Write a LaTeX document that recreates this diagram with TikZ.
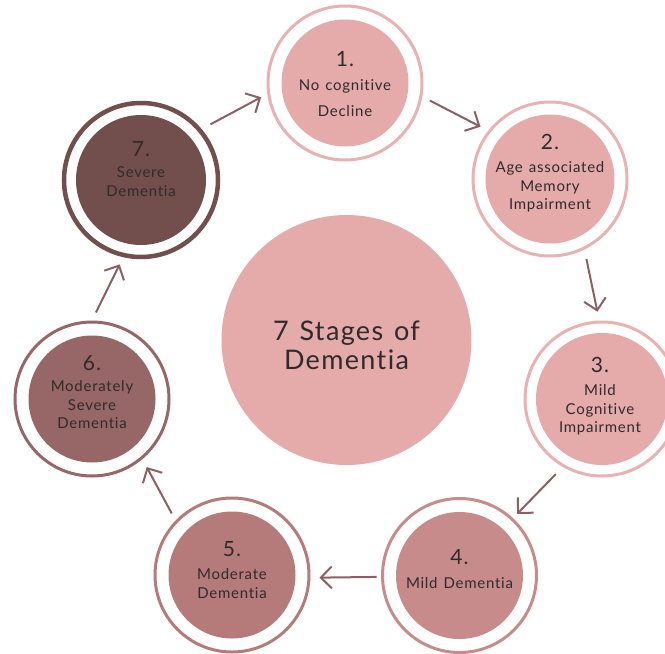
\documentclass[tikz,border=0pt]{standalone}
\usepackage{fontspec}
\setmainfont{Lato}[LetterSpace=5, Ligatures={NoCommon,NoContextual,NoRequired}, WordSpace=1.3]
\usetikzlibrary{arrows.meta}
\definecolor{pinkA}{HTML}{E5AAAA}
\definecolor{ringA}{HTML}{E8B2B2}
\definecolor{pinkB}{HTML}{C88B8B}
\definecolor{pinkC}{HTML}{B57B7B}
\definecolor{pinkD}{HTML}{966766}
\definecolor{pinkE}{HTML}{724E4C}
\definecolor{arrowc}{HTML}{8C5F62}
\definecolor{txtc}{HTML}{302B2B}
\tikzset{
  ring/.style={circle, draw=#1, line width=3pt, minimum size=154pt, inner sep=0pt},
  disc/.style={circle, fill=#1, minimum size=127pt, inner sep=0pt},
  lbl/.style={align=center, text=txtc, font=\fontsize{15}{18.5}\selectfont, inner sep=0pt},
  flow/.style={draw=arrowc, line width=2pt, -{Straight Barb[length=11pt,width=22pt]}},
}
\newcommand{\stnum}[1]{{\fontsize{21}{24}\selectfont #1}}
\begin{document}
\begin{tikzpicture}[x=1pt,y=-1pt]
\clip (0,0) rectangle (665,654);
% centre
\node[circle, fill=pinkA, minimum size=250pt, inner sep=0pt] (hub) at (346.5,340) {};
\node[align=center, text=txtc, font=\fontsize{27}{29}\selectfont, inner sep=0pt] (title) at (346.5,345) {7 Stages of\\Dementia};
% stages: rings and discs
\node[ring=ringA] (r1) at (345,83) {};
\node[disc=pinkA] (d1) at (345,83) {};
\node[ring=ringA] (r2) at (550,179) {};
\node[disc=pinkA, minimum size=129pt] (d2) at (550,179) {};
\node[ring=ringA] (r3) at (602,399) {};
\node[disc=pinkA, minimum size=132pt] (d3) at (602,399) {};
\node[ring=pinkB] (r4) at (459.5,575.5) {};
\node[disc=pinkB] (d4) at (459.5,575.5) {};
\node[ring=pinkC] (r5) at (232,575) {};
\node[disc=pinkC] (d5) at (232,575) {};
\node[ring=pinkD] (r6) at (92,399) {};
\node[disc=pinkD] (d6) at (92,399) {};
\node[ring=pinkE, line width=4.5pt] (r7) at (141,180) {};
\node[disc=pinkE, minimum size=130pt] (d7) at (141,180) {};
% labels
\node[lbl] (t1) at (345,84) {\stnum{1.}\\[5pt] No cognitive\\[7.5pt] Decline};
\node[lbl] (t2) at (550,173) {\stnum{2.}\\[5pt] Age associated\\ Memory\\ Impairment};
\node[lbl] (t3) at (600,396) {\stnum{3.}\\[5pt] Mild\\ Cognitive\\ Impairment};
\node[lbl] (t4) at (459.5,569) {\stnum{4.}\\[5pt] Mild Dementia};
\node[lbl] (t5) at (232,570) {\stnum{5.}\\[5pt] Moderate\\ Dementia};
\node[lbl] (t6) at (92,392) {\stnum{6.}\\[3pt] Moderately\\ Severe\\ Dementia};
\node[lbl] (t7) at (141,169) {\stnum{7.}\\[3pt] Severe\\ Dementia};
% connectors
\draw[flow, shorten <=8.5pt, shorten >=8.6pt] (r1.-10.8) -- (r2.142.6);
\draw[flow, shorten <=9.8pt, shorten >=9pt] (r2.-64) -- (r3.92.7);
\draw[flow, shorten <=10pt, shorten >=5.8pt] (r3.-120.4) -- (r4.47.9);
\draw[flow, shorten <=4.5pt, shorten >=9pt] (r4.181.8) -- (r5.-2);
\draw[flow, shorten <=8pt, shorten >=9pt] (r5.136.9) -- (r6.-50.2);
\draw[flow, shorten <=9pt, shorten >=8pt] (r6.90) -- (r7.257);
\draw[flow, shorten <=10pt, shorten >=7pt] (r7.40.8) -- (r1.188.2);
\end{tikzpicture}
\end{document}
